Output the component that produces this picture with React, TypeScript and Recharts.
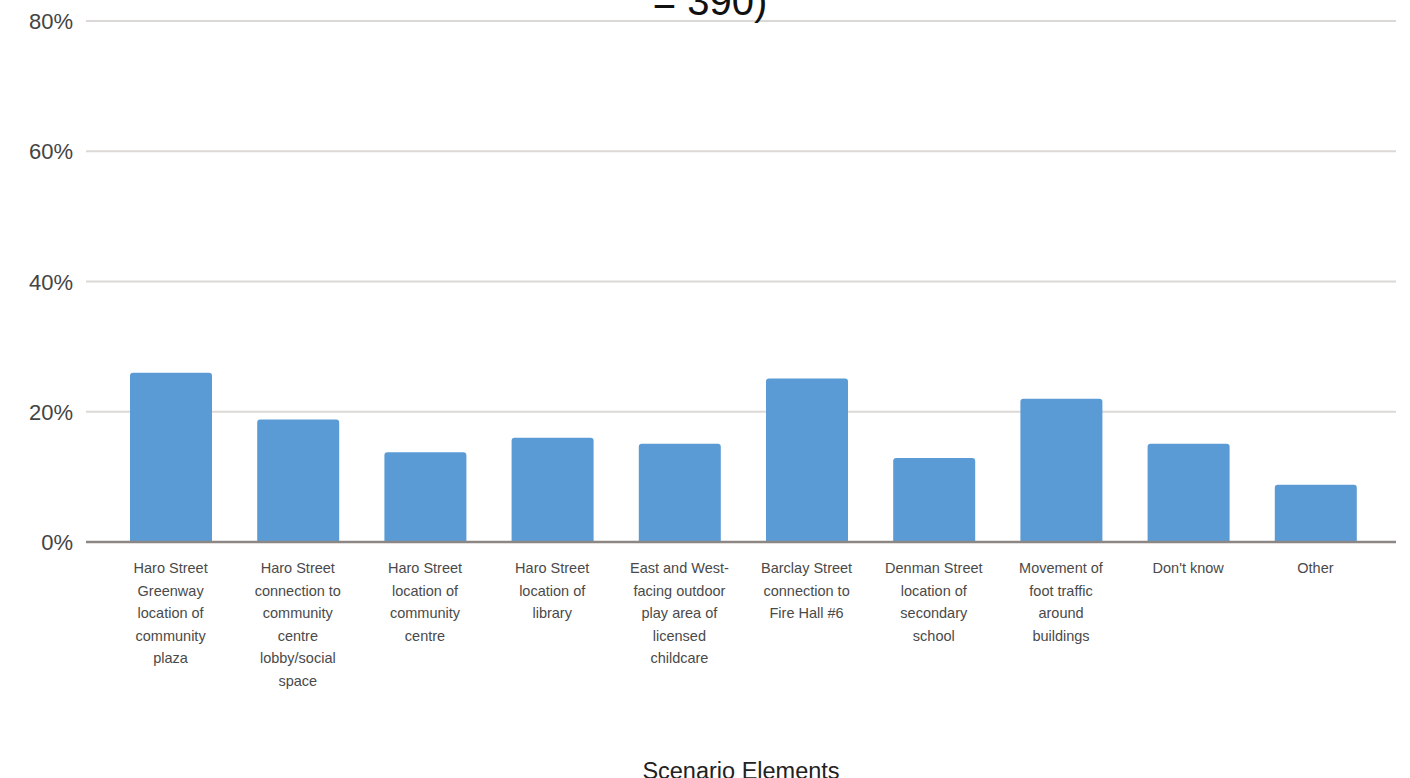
import React from 'react';
import { BarChart, Bar, XAxis, YAxis, CartesianGrid, Label } from 'recharts';

// category names; "\n" marks the line breaks used in the axis labels
const categories = [
  'Haro Street\nGreenway\nlocation of\ncommunity\nplaza',
  'Haro Street\nconnection to\ncommunity\ncentre\nlobby/social\nspace',
  'Haro Street\nlocation of\ncommunity\ncentre',
  'Haro Street\nlocation of\nlibrary',
  'East and West-\nfacing outdoor\nplay area of\nlicensed\nchildcare',
  'Barclay Street\nconnection to\nFire Hall #6',
  'Denman Street\nlocation of\nsecondary\nschool',
  'Movement of\nfoot traffic\naround\nbuildings',
  "Don't know",
  'Other',
];

const shares = [0.26, 0.188, 0.138, 0.16, 0.151, 0.251, 0.129, 0.22, 0.151, 0.088];

const yTicks = [0, 0.2, 0.4, 0.6, 0.8];

const data = categories.map((name, i) => ({ name, share: shares[i] }));

const FONT = 'Liberation Sans, Arial, sans-serif';

const CategoryTick = (props: any) => {
  const { x, y, payload } = props;
  const lines = String(payload.value).split('\n');
  return (
    <text x={x} y={y + 29} textAnchor="middle" fontFamily={FONT} fontSize={14.5} fill="#4a4a4a">
      {lines.map((line, i) => (
        <tspan key={i} x={x} dy={i === 0 ? 0 : 22.5}>
          {line}
        </tspan>
      ))}
    </text>
  );
};

const PercentTick = (props: any) => {
  const { y, payload } = props;
  return (
    <text x={73} y={y + 8} textAnchor="end" fontFamily={FONT} fontSize={22} fill="#444">
      {`${Math.round(payload.value * 100)}%`}
    </text>
  );
};

export default function App() {
  return (
    <div style={{ position: 'absolute', left: 0, top: 0, width: 1410, height: 778, overflow: 'hidden', background: '#fff' }}>
      <BarChart
        width={1410}
        height={778}
        data={data}
        margin={{ top: 21, right: 14, bottom: 0, left: 0 }}
        barCategoryGap={0}
      >
        <CartesianGrid vertical={false} stroke="#dcd8d5" strokeWidth={2} />
        <XAxis
          dataKey="name"
          interval={0}
          height={236}
          tickLine={false}
          tickSize={0}
          axisLine={{ stroke: '#8c8784', strokeWidth: 2.5 }}
          padding={{ left: 21, right: 17 }}
          tick={<CategoryTick />}
        >
          <Label
            value="Scenario Elements"
            position="insideBottom"
            offset={-1}
            style={{ fontFamily: FONT, fontSize: 23.5, fill: '#222' }}
          />
        </XAxis>
        <YAxis
          width={86}
          domain={[0, 0.8]}
          ticks={yTicks}
          tickLine={false}
          axisLine={false}
          tickSize={0}
          tick={<PercentTick />}
        />
        <Bar dataKey="share" fill="#5b9bd5" barSize={82} radius={[3, 3, 0, 0]} isAnimationActive={false} />
      </BarChart>
      <div
        style={{
          position: 'absolute',
          top: -19,
          left: 0,
          width: 1420,
          textAlign: 'center',
          fontFamily: FONT,
          fontSize: 40,
          lineHeight: '40px',
          color: '#111',
        }}
      >
        = 390)
      </div>
    </div>
  );
}
